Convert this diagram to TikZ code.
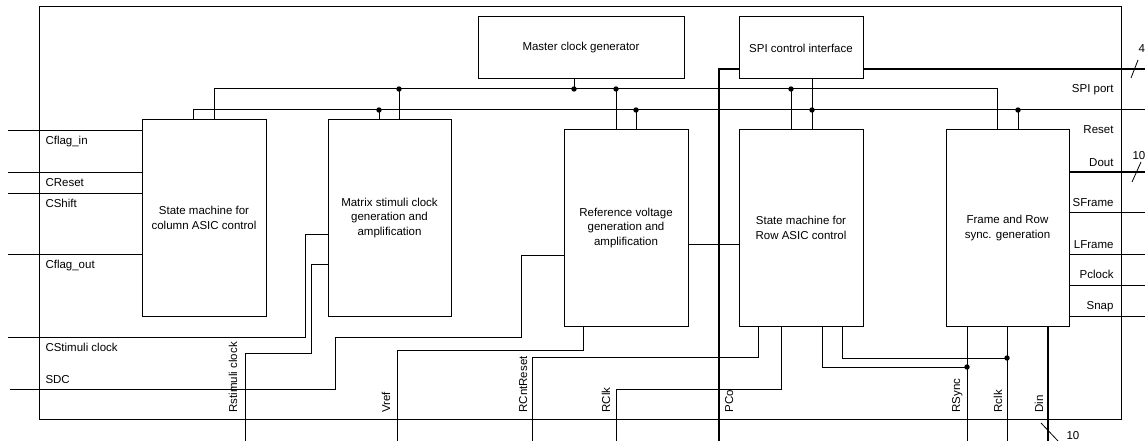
\documentclass[tikz,border=0pt]{standalone}
\usepackage{fontspec}
\setmainfont{Liberation Sans}
\newcommand{\dgfont}{\fontsize{11.5}{14.5}\selectfont}
\begin{document}
\begin{tikzpicture}[x=1pt,y=-1pt, line width=1pt,
  box/.style={draw, line width=1pt, align=center, inner sep=0pt, font=\dgfont},
  lbl/.style={font=\dgfont, inner sep=0pt},
  vlbl/.style={font=\dgfont, inner sep=0pt, rotate=90, anchor=base west},
  thk/.style={line width=1.9pt}]
\useasboundingbox (0,0) rectangle (1145,441);

% outer frame
\draw (39,7) rectangle (1121,419);

% boxes
\node[box, minimum width=124pt, minimum height=196pt] (col) at (204,218) {State machine for\\column ASIC control};
\node[box, minimum width=123pt, minimum height=196pt] (mat) at (389.5,218) {Matrix stimuli clock\\generation and\\amplification};
\node[box, minimum width=206pt, minimum height=62pt] (mcg) at (581,48) {Master clock generator};
\node[box, minimum width=124pt, minimum height=62pt] (spi) at (801,48) {SPI control interface};
\node[box, minimum width=124pt, minimum height=196pt] (ref) at (626,228) {Reference voltage\\generation and\\amplification};
\node[box, minimum width=124pt, minimum height=196pt] (row) at (801,228) {State machine for\\Row ASIC control};
\node[box, minimum width=123pt, minimum height=196pt] (frm) at (1007.5,228) {Frame and Row\\sync. generation};

% bus coordinates
\coordinate (b1L) at (214,89);
\coordinate (b1R) at (997,89);
\coordinate (j1m) at (399,89);
\coordinate (j1c) at (574,89);
\coordinate (j1r) at (616,89);
\coordinate (j1w) at (791,89);
\coordinate (b2L) at (193,110);
\coordinate (b2R) at (1145,110);
\coordinate (j2m) at (379,110);
\coordinate (j2r) at (636,110);
\coordinate (j2s) at (812,110);
\coordinate (j2f) at (1018,110);

\draw (col.north -| b1L) -- (b1L) -- (b1R) -- (frm.north -| b1R);
\draw (col.north -| b2L) -- (b2L) -- (b2R);
\draw (j1m) -- (mat.north -| j1m);
\draw (j2m) -- (mat.north -| j2m);
\draw (mcg.south -| j1c) -- (j1c);
\draw (j1r) -- (ref.north -| j1r);
\draw (j2r) -- (ref.north -| j2r);
\draw (j1w) -- (row.north -| j1w);
\draw (spi.south -| j2s) -- (row.north -| j2s);
\draw (j2f) -- (frm.north -| j2f);

% SPI thick lines
\coordinate (spiA) at (719,69);
\coordinate (pco) at (719,441);
\coordinate (spiout) at (1145,69);
\draw[thk] (spi.west |- spiA) -- (spiA) -- (pco);
\draw[thk] (spi.east |- spiA) -- (spiout);

% left inputs
\coordinate (cfin) at (8,131);
\coordinate (crst) at (8,172);
\coordinate (csh) at (8,193);
\coordinate (cfout) at (8,254);
\draw (cfin) -- (col.west |- cfin);
\draw (crst) -- (col.west |- crst);
\draw (csh) -- (col.west |- csh);
\draw (cfout) -- (col.west |- cfout);
\coordinate (csc) at (8,337);
\coordinate (csc1) at (305,337);
\coordinate (csc2) at (305,234);
\draw (csc) -- (csc1) -- (csc2) -- (mat.west |- csc2);
\coordinate (sdc) at (10,389);
\coordinate (sdc1) at (335,389);
\coordinate (sdc2) at (335,337);
\coordinate (sdc3) at (521,337);
\coordinate (sdc4) at (521,255);
\draw (sdc) -- (sdc1) -- (sdc2) -- (sdc3) -- (sdc4) -- (ref.west |- sdc4);

% bottom signals
\coordinate (rst) at (245,441);
\coordinate (rst1) at (245,353);
\coordinate (rst2) at (311,353);
\coordinate (rst3) at (311,264);
\draw (rst) -- (rst1) -- (rst2) -- (rst3) -- (mat.west |- rst3);
\coordinate (vref) at (397,441);
\coordinate (vref1) at (397,350);
\coordinate (vref2) at (583,350);
\draw (vref) -- (vref1) -- (vref2) -- (ref.south -| vref2);
\coordinate (rcr) at (532,441);
\coordinate (rcr1) at (532,357);
\coordinate (rcr2) at (758,357);
\draw (rcr) -- (rcr1) -- (rcr2) -- (row.south -| rcr2);
\coordinate (rck) at (616,441);
\coordinate (rck1) at (616,389);
\coordinate (rck2) at (781,389);
\draw (rck) -- (rck1) -- (rck2) -- (row.south -| rck2);
\coordinate (rr) at (700,244);
\draw (ref.east |- rr) -- (row.west |- rr);
\coordinate (rs1) at (822,367);
\coordinate (jrs) at (967,367);
\draw (row.south -| rs1) -- (rs1) -- (jrs);
\coordinate (rc1) at (842,358);
\coordinate (jrc) at (1007,358);
\draw (row.south -| rc1) -- (rc1) -- (jrc);
\coordinate (rsync) at (967,441);
\coordinate (rclk) at (1007,441);
\coordinate (din) at (1048,441);
\draw (frm.south -| rsync) -- (rsync);
\draw (frm.south -| rclk) -- (rclk);
\draw[thk] (frm.south -| din) -- (din);

% right outputs
\coordinate (dout) at (1145,172);
\coordinate (sfr) at (1145,212);
\coordinate (lfr) at (1145,254);
\coordinate (pclk) at (1145,285);
\coordinate (snap) at (1145,316);
\draw[thk] (frm.east |- dout) -- (dout);
\draw (frm.east |- sfr) -- (sfr);
\draw (frm.east |- lfr) -- (lfr);
\draw (frm.east |- pclk) -- (pclk);
\draw (frm.east |- snap) -- (snap);

% dots
\foreach \p in {j1m,j1c,j1r,j1w,j2m,j2r,j2s,j2f,jrs,jrc}
  \fill (\p) circle (2.7pt);

% bus width marks
\draw[line width=0.8pt] (1131,78) -- (1138,60);
\draw[line width=0.8pt] (1132,182) -- (1141,162);
\draw[line width=0.8pt] (1041,423) -- (1058,441);
\node[lbl, anchor=base west] (n4) at (1138,53) {4};
\node[lbl, anchor=base west] (n10a) at (1132,159) {10};
\node[lbl, anchor=base west] (n10b) at (1066,439.5) {10};

% left labels
\node[lbl, anchor=base west] (lcfin) at (45,144) {Cflag\_in};
\node[lbl, anchor=base west] (lcrst) at (45,186) {CReset};
\node[lbl, anchor=base west] (lcsh) at (45,207) {CShift};
\node[lbl, anchor=base west] (lcfout) at (45,268) {Cflag\_out};
\node[lbl, anchor=base west] (lcsc) at (45,351) {CStimuli clock};
\node[lbl, anchor=base west] (lsdc) at (45,383) {SDC};

% right labels
\node[lbl, anchor=base east] (lspi) at (1114,93) {SPI port};
\node[lbl, anchor=base east] (lrst) at (1114,134) {Reset};
\node[lbl, anchor=base east] (ldout) at (1114,166) {Dout};
\node[lbl, anchor=base east] (lsfr) at (1114,206) {SFrame};
\node[lbl, anchor=base east] (llfr) at (1114,248) {LFrame};
\node[lbl, anchor=base east] (lpclk) at (1114,278) {Pclock};
\node[lbl, anchor=base east] (lsnap) at (1114,309) {Snap};

% bottom labels
\node[vlbl] (lrstim) at (237,413) {Rstimuli clock};
\node[vlbl] (lvref) at (390,413) {Vref};
\node[vlbl] (lrcr) at (527,413) {RCntReset};
\node[vlbl] (lrck) at (610,413) {RClk};
\node[vlbl] (lpco) at (733,413) {PCo};
\node[vlbl] (lrsync) at (960,413) {RSync};
\node[vlbl] (lrclk) at (1002,413) {Rclk};
\node[vlbl] (ldin) at (1043,413) {Din};
\end{tikzpicture}
\end{document}
